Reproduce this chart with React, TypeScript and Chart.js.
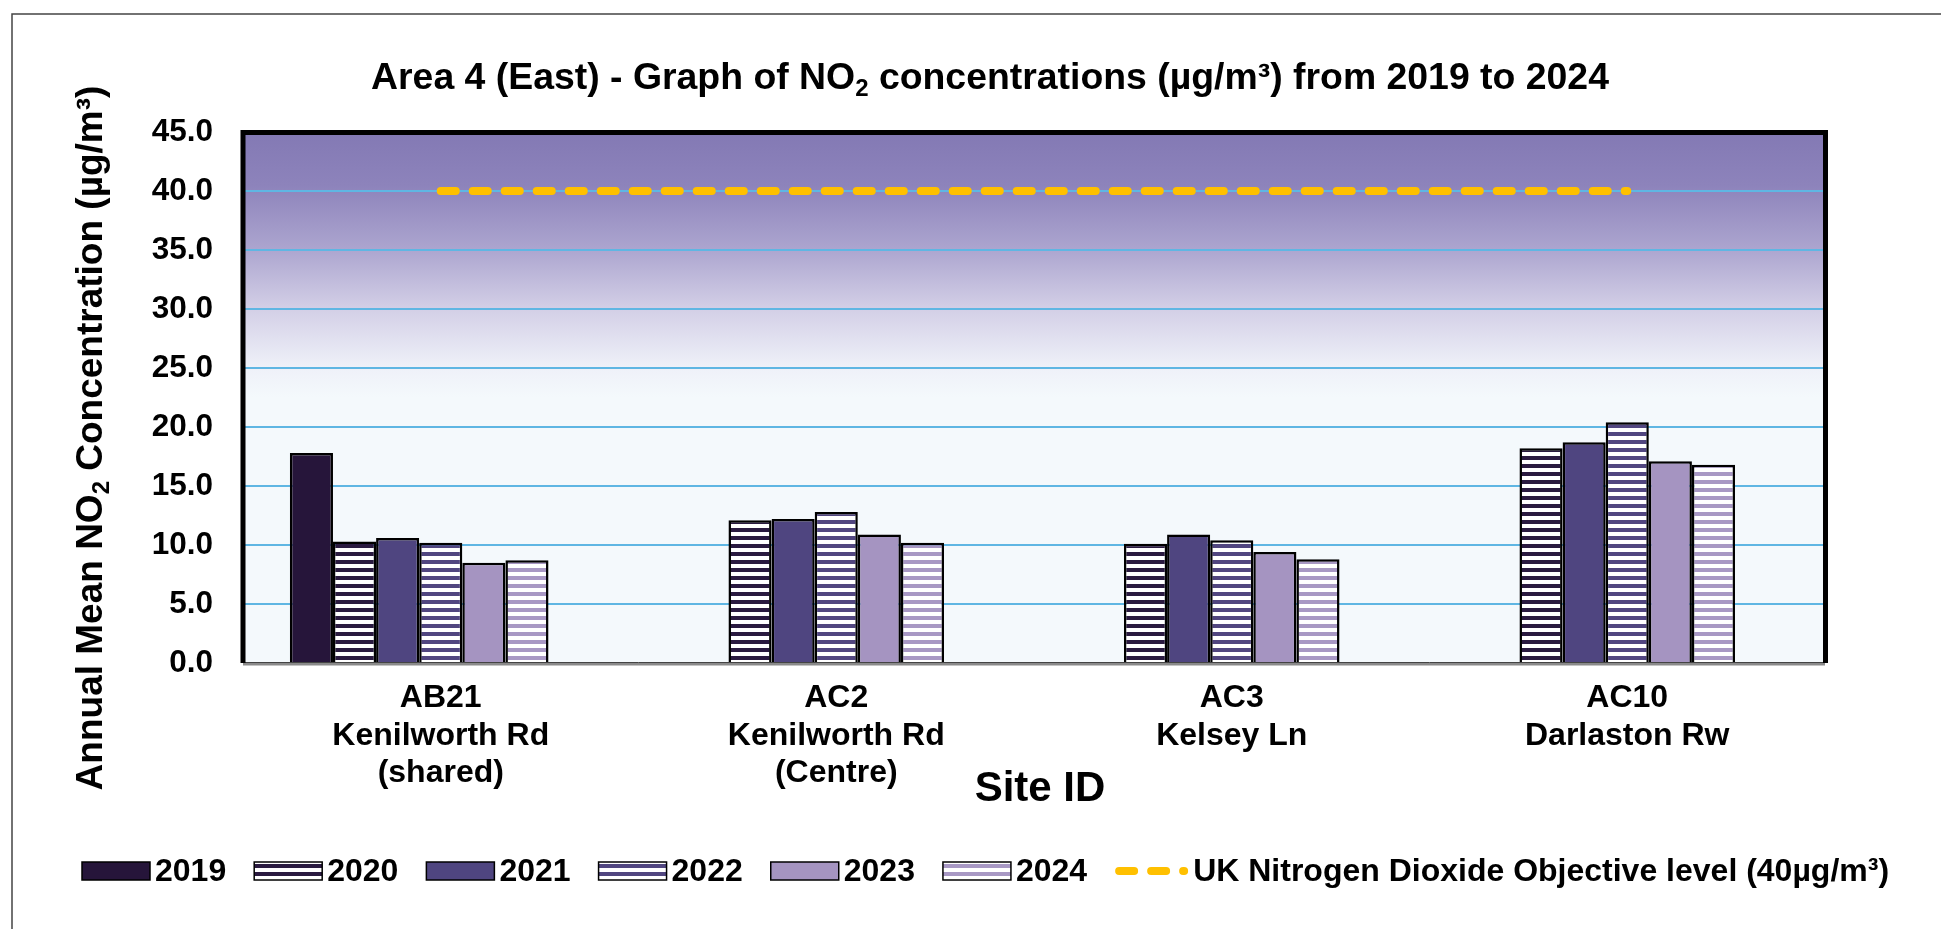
import React, { useEffect, useRef } from 'react';
import { Chart, registerables } from 'chart.js';

Chart.register(...registerables);

const FONT = '"Liberation Sans", Arial, Helvetica, sans-serif';

// ---- data ----
const categories = [
  ['AB21', 'Kenilworth Rd', '(shared)'],
  ['AC2', 'Kenilworth Rd', '(Centre)'],
  ['AC3', 'Kelsey Ln'],
  ['AC10', 'Darlaston Rw'],
];
const seriesLabels = ['2019', '2020', '2021', '2022', '2023', '2024'];
const v2019 = [17.8, null, null, null];
const v2020 = [10.3, 12.1, 10.1, 18.2];
const v2021 = [10.6, 12.2, 10.9, 18.7];
const v2022 = [10.2, 12.8, 10.4, 20.4];
const v2023 = [8.5, 10.9, 9.4, 17.1];
const v2024 = [8.7, 10.2, 8.8, 16.8];
const blankSlot = [null, null, null, null];
const objectiveLabel = 'UK Nitrogen Dioxide Objective level (40µg/m³)';
const objective = [40, 40, 40, 40];
const yMin = 0;
const yMax = 45;
const yStep = 5;

const titleSegs = [
  { t: 'Area 4 (East) - Graph of NO' },
  { t: '2', s: 'sub' },
  { t: ' concentrations (µg/m³) from 2019 to 2024' },
];
const yTitleSegs = [
  { t: 'Annual Mean NO' },
  { t: '2', s: 'sub' },
  { t: ' Concentration (µg/m³)' },
];
const xTitle = 'Site ID';

// ---- styles ----
const seriesColors = ['#26153a', '#2a1a40', '#4f4580', '#514680', '#a594c1', '#a898c4'];
const seriesStriped = [false, true, false, true, false, true];

type Seg = { t: string; s?: string };

function drawRich(ctx: CanvasRenderingContext2D, segs: Seg[], x: number, y: number, size: number) {
  const small = Math.round(size * 0.65);
  const widths = segs.map((sg) => {
    ctx.font = `bold ${sg.s ? small : size}px ${FONT}`;
    return ctx.measureText(sg.t).width;
  });
  const total = widths.reduce((a, b) => a + b, 0);
  let cx = x - total / 2;
  ctx.textAlign = 'left';
  ctx.textBaseline = 'alphabetic';
  segs.forEach((sg, i) => {
    ctx.font = `bold ${sg.s ? small : size}px ${FONT}`;
    const dy = sg.s === 'sub' ? size * 0.2 : 0;
    ctx.fillText(sg.t, cx, y + dy);
    cx += widths[i];
  });
}

export default function App() {
  const ref = useRef<HTMLCanvasElement>(null);

  useEffect(() => {
    const canvas = ref.current!;
    const ctx0 = canvas.getContext('2d')!;
    Chart.defaults.font.family = FONT;

    const makeStripe = (color: string) => {
      const pc = document.createElement('canvas');
      pc.width = 8;
      pc.height = 8;
      const p = pc.getContext('2d')!;
      p.fillStyle = '#ffffff';
      p.fillRect(0, 0, 8, 8);
      p.fillStyle = color;
      p.fillRect(0, 0, 8, 4);
      return ctx0.createPattern(pc, 'repeat');
    };

    const values = [v2019, v2020, v2021, v2022, v2023, v2024];
    const barSets: any[] = seriesLabels.map((lab, i) => ({
      type: 'bar',
      label: lab,
      data: values[i],
      backgroundColor: seriesStriped[i] ? makeStripe(seriesColors[i]) : seriesColors[i],
      borderColor: '#000000',
      borderWidth: 2.5,
      order: 1,
    }));
    barSets.push({ type: 'bar', label: '', data: blankSlot, backgroundColor: 'transparent', borderWidth: 0, order: 1 });
    const lineSet: any = {
      type: 'line',
      label: objectiveLabel,
      data: objective,
      borderColor: '#FFC000',
      backgroundColor: '#FFC000',
      borderWidth: 8,
      borderDash: [15, 17],
      borderCapStyle: 'round',
      pointRadius: 0,
      fill: false,
      order: 0,
    };

    const bgPlugin = {
      id: 'bg',
      beforeDraw(chart: any) {
        const { ctx, chartArea: a } = chart;
        const g = ctx.createLinearGradient(0, a.top, 0, a.bottom);
        g.addColorStop(0, '#8379b4');
        g.addColorStop(0.1, '#8d83bb');
        g.addColorStop(0.22, '#aca5cf');
        g.addColorStop(0.33, '#d2cee6');
        g.addColorStop(0.44, '#eef0f8');
        g.addColorStop(0.5, '#f4f9fc');
        g.addColorStop(1, '#f4f9fc');
        ctx.save();
        ctx.fillStyle = g;
        ctx.fillRect(a.left, a.top, a.right - a.left, a.bottom - a.top);
        ctx.restore();
      },
    };

    const decorPlugin = {
      id: 'decor',
      afterDraw(chart: any) {
        const { ctx, chartArea: a } = chart;
        ctx.save();
        // bottom axis
        ctx.strokeStyle = '#8a8a8a';
        ctx.lineWidth = 3;
        ctx.beginPath();
        ctx.moveTo(a.left, a.bottom + 1);
        ctx.lineTo(a.right, a.bottom + 1);
        ctx.stroke();
        ctx.strokeStyle = '#444';
        ctx.lineWidth = 1;
        ctx.beginPath();
        ctx.moveTo(a.left, a.bottom - 0.5);
        ctx.lineTo(a.right, a.bottom - 0.5);
        ctx.stroke();
        // plot border
        ctx.strokeStyle = '#000';
        ctx.lineWidth = 5;
        ctx.lineJoin = 'miter';
        ctx.beginPath();
        ctx.moveTo(a.left, a.bottom);
        ctx.lineTo(a.left, a.top + 0.5);
        ctx.lineTo(a.right + 0.5, a.top + 0.5);
        ctx.lineTo(a.right + 0.5, a.bottom);
        ctx.stroke();
        // outer frame
        ctx.strokeStyle = '#444';
        ctx.lineWidth = 1.5;
        ctx.beginPath();
        ctx.moveTo(12, chart.height + 5);
        ctx.lineTo(12, 14);
        ctx.lineTo(chart.width + 5, 14);
        ctx.stroke();
        // titles
        ctx.fillStyle = '#000';
        drawRich(ctx, titleSegs, 990, 89, 37.4);
        ctx.save();
        ctx.translate(102, 438);
        ctx.rotate(-Math.PI / 2);
        drawRich(ctx, yTitleSegs, 0, 0, 37);
        ctx.restore();
        ctx.font = `bold 42px ${FONT}`;
        ctx.textAlign = 'center';
        ctx.textBaseline = 'alphabetic';
        ctx.fillText(xTitle, 1040, 801);
        // legend
        let x = 82;
        const cy = 871;
        chart.data.datasets.forEach((ds: any) => {
          if (!ds.label) return;
          let textX = x + 73;
          if (ds.type === 'line') {
            ctx.save();
            ctx.strokeStyle = ds.borderColor;
            ctx.lineWidth = ds.borderWidth;
            ctx.setLineDash(ds.borderDash);
            ctx.lineCap = 'round';
            ctx.beginPath();
            ctx.moveTo(x + 4, cy);
            ctx.lineTo(x + 69, cy);
            ctx.stroke();
            ctx.restore();
            textX = x + 78;
          } else {
            ctx.fillStyle = ds.backgroundColor;
            ctx.fillRect(x, cy - 9, 68, 18);
            ctx.strokeStyle = '#000';
            ctx.lineWidth = 1.5;
            ctx.strokeRect(x, cy - 9, 68, 18);
          }
          ctx.fillStyle = '#000';
          ctx.font = `bold 32px ${FONT}`;
          ctx.textAlign = 'left';
          ctx.textBaseline = 'middle';
          ctx.fillText(ds.label, textX, cy + 1);
          x = textX + ctx.measureText(ds.label).width + 28;
        });
        ctx.restore();
      },
    };

    const chart = new Chart(canvas, {
      type: 'bar',
      data: { labels: categories, datasets: [...barSets, lineSet] },
      options: {
        responsive: false,
        animation: false,
        devicePixelRatio: 1,
        layout: { padding: { left: 0, top: 132, right: 116, bottom: 0 } },
        datasets: { bar: { categoryPercentage: 0.763, barPercentage: 1 } },
        plugins: {
          legend: { display: false },
          title: { display: false },
          tooltip: { enabled: false },
        },
        scales: {
          x: {
            grid: { display: false },
            border: { display: false },
            ticks: {
              color: '#000',
              font: { size: 32, weight: 'bold', lineHeight: 1.16 },
              padding: 9,
              maxRotation: 0,
              autoSkip: false,
            },
            afterFit: (s: any) => {
              s.height = 266;
            },
          },
          y: {
            min: yMin,
            max: yMax,
            ticks: {
              stepSize: yStep,
              color: '#000',
              font: { size: 31.5, weight: 'bold' },
              padding: 30,
              callback: (v: any) => Number(v).toFixed(1),
            },
            grid: {
              drawTicks: false,
              lineWidth: 2,
              color: (c: any) =>
                c.tick && (c.tick.value === yMin || c.tick.value === yMax) ? 'rgba(0,0,0,0)' : '#5fb6e3',
            },
            border: { display: false },
            afterFit: (s: any) => {
              s.width = 243;
            },
          },
        },
      } as any,
      plugins: [bgPlugin, decorPlugin],
    });
    return () => chart.destroy();
  }, []);

  return (
    <div style={{ position: 'absolute', left: 0, top: 0, width: 1941, height: 929, background: '#fff' }}>
      <canvas ref={ref} width={1941} height={929} style={{ display: 'block', width: 1941, height: 929 }} />
    </div>
  );
}
